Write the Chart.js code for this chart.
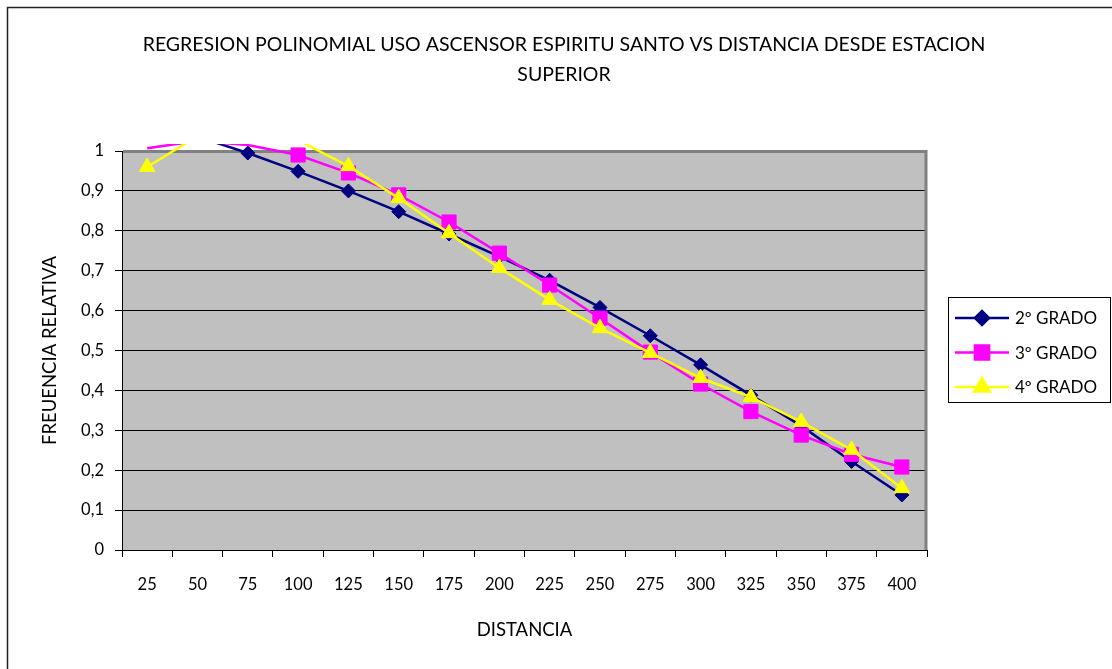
<!DOCTYPE html>
<html>
<head>
<meta charset="utf-8">
<script src="https://cdn.jsdelivr.net/npm/chart.js@4.4.0/dist/chart.umd.min.js"></script>
<style>
  html, body { margin: 0; padding: 0; background: #fff; }
  #wrap { width: 1112px; height: 669px; position: relative; }
</style>
</head>
<body>
<div id="wrap"><canvas id="chart"></canvas></div>
<script>
const distancias = ['25', '50', '75', '100', '125', '150', '175', '200', '225', '250', '275', '300', '325', '350', '375', '400'];
// values above 1 fall outside the plot and are clipped, as in the original
const grado2 = [1.07, 1.036, 0.995, 0.949, 0.9, 0.848, 0.792, 0.735, 0.676, 0.608, 0.537, 0.464, 0.388, 0.311, 0.222, 0.138];
const grado3 = [1.007, 1.025, 1.015, 0.99, 0.945, 0.89, 0.822, 0.744, 0.664, 0.581, 0.496, 0.416, 0.347, 0.288, 0.24, 0.208];
const grado4 = [0.96, 1.037, 1.06, 1.027, 0.962, 0.882, 0.794, 0.707, 0.627, 0.556, 0.494, 0.431, 0.383, 0.321, 0.251, 0.155];
const seriesNames = ['2º GRADO', '3º GRADO', '4º GRADO'];

const FONT = 'Lato, "Liberation Sans", sans-serif';

const hideAbove = (r) => (ctx) => (ctx.raw > 1 ? 0 : r);

// grey plot area, its border and the outer frame
const plotArea = {
  id: 'plotArea',
  beforeDraw(chart) {
    const { ctx, chartArea: a } = chart;
    ctx.save();
    ctx.fillStyle = '#C0C0C0';
    ctx.fillRect(a.left, a.top, a.right - a.left, a.bottom - a.top);
    ctx.restore();
  },
  beforeDatasetsDraw(chart) {
    const { ctx, chartArea: a } = chart;
    ctx.save();
    ctx.strokeStyle = '#808080';
    ctx.lineWidth = 3;
    ctx.beginPath();
    ctx.moveTo(a.left + 1, a.top + 0.5);
    ctx.lineTo(a.right - 1, a.top + 0.5);
    ctx.lineTo(a.right - 1, a.bottom);
    ctx.stroke();
    ctx.restore();
  },
  afterDraw(chart) {
    const { ctx, width, height } = chart;
    ctx.save();
    ctx.strokeStyle = '#222';
    ctx.lineWidth = 1.5;
    ctx.beginPath();
    ctx.moveTo(7.5, height);
    ctx.lineTo(7.5, 7.5);
    ctx.lineTo(width, 7.5);
    ctx.stroke();
    ctx.restore();
  }
};

// legend box with line + marker samples
const boxLegend = {
  id: 'boxLegend',
  afterDraw(chart) {
    const { ctx, chartArea: a } = chart;
    const left = a.right + 21, top = 297.5, w = 162, h = 105;
    ctx.save();
    ctx.strokeStyle = '#000';
    ctx.lineWidth = 1;
    ctx.strokeRect(Math.round(left) + 0.5, top, w, h);
    ctx.font = '17px ' + FONT;
    ctx.textBaseline = 'middle';
    chart.data.datasets.forEach((ds, i) => {
      const y = top + 20.5 + i * 34.5;
      ctx.strokeStyle = ds.borderColor;
      ctx.lineWidth = ds.borderWidth;
      ctx.beginPath();
      ctx.moveTo(left + 7, y);
      ctx.lineTo(left + 61, y);
      ctx.stroke();
      ctx.fillStyle = ds.backgroundColor;
      ctx.strokeStyle = ds.borderColor;
      Chart.helpers.drawPoint(ctx, {
        pointStyle: ds.pointStyle,
        radius: ds.legendRadius,
        rotation: 0,
        borderWidth: 1
      }, left + 34, y);
      ctx.fillStyle = '#000';
      ctx.fillText(ds.label, left + 67, y + 1);
    });
    ctx.restore();
  }
};

new Chart(document.getElementById('chart'), {
  type: 'line',
  data: {
    labels: distancias,
    datasets: [
      {
        label: seriesNames[0],
        data: grado2,
        borderColor: '#000080',
        backgroundColor: '#000080',
        borderWidth: 2.5,
        pointStyle: 'rectRot',
        pointRadius: hideAbove(7),
        legendRadius: 7,
        pointBorderWidth: 1,
        tension: 0,
        order: 2,
        clip: { left: 10, top: 7, right: 10, bottom: 10 }
      },
      {
        label: seriesNames[1],
        data: grado3,
        borderColor: '#FF00FF',
        backgroundColor: '#FF00FF',
        borderWidth: 2.5,
        pointStyle: 'rect',
        pointRadius: hideAbove(10),
        legendRadius: 10,
        pointBorderWidth: 1,
        tension: 0,
        order: 1,
        clip: { left: 10, top: 7, right: 10, bottom: 10 }
      },
      {
        label: seriesNames[2],
        data: grado4,
        borderColor: '#FFFF00',
        backgroundColor: '#FFFF00',
        borderWidth: 2.5,
        pointStyle: 'triangle',
        pointRadius: hideAbove(9),
        legendRadius: 9,
        pointBorderWidth: 1,
        tension: 0,
        order: 0,
        clip: { left: 10, top: 7, right: 10, bottom: 10 }
      }
    ]
  },
  options: {
    responsive: true,
    maintainAspectRatio: false,
    animation: false,
    layout: { padding: { left: 16, right: 0, top: 0, bottom: 0 } },
    plugins: {
      legend: { display: false },
      tooltip: { enabled: false },
      title: {
        display: true,
        text: ['REGRESION POLINOMIAL USO ASCENSOR ESPIRITU SANTO VS DISTANCIA DESDE ESTACION', 'SUPERIOR'],
        color: '#000',
        font: { family: FONT, size: 19.5, weight: 'normal', lineHeight: '30px' },
        padding: { top: 30, bottom: 61 }
      }
    },
    scales: {
      x: {
        offset: true,
        afterFit: (s) => { s.height = 119; },
        grid: { display: true, drawOnChartArea: false, offset: true, color: '#000', tickLength: 7, tickColor: '#000' },
        border: { display: true, color: '#000', width: 1 },
        ticks: { color: '#000', padding: 18, maxRotation: 0, autoSkip: false, font: { family: FONT, size: 16.5 } },
        title: { display: true, text: 'DISTANCIA', color: '#000', font: { family: FONT, size: 18.5 }, padding: { top: 0, bottom: 28 } }
      },
      y: {
        min: 0,
        max: 1,
        afterFit: (s) => { s.width = 106; },
        grid: { color: '#000', lineWidth: 1, tickLength: 7, tickColor: '#000' },
        border: { display: true, color: '#000', width: 1 },
        ticks: {
          stepSize: 0.1,
          color: '#000',
          padding: 11,
          font: { family: FONT, size: 16.5 },
          callback: (v) => String(Number(v.toFixed(1))).replace('.', ',')
        },
        title: { display: true, text: 'FREUENCIA RELATIVA', color: '#000', font: { family: FONT, size: 18.5 }, padding: { top: 23, bottom: 0 } }
      },
      // empty right-hand axis that reserves the room used by the legend
      yRight: {
        position: 'right',
        display: true,
        afterFit: (s) => { s.width = 185; },
        grid: { display: false },
        border: { display: false },
        ticks: { display: false }
      }
    }
  },
  plugins: [plotArea, boxLegend]
});
</script>
</body>
</html>
